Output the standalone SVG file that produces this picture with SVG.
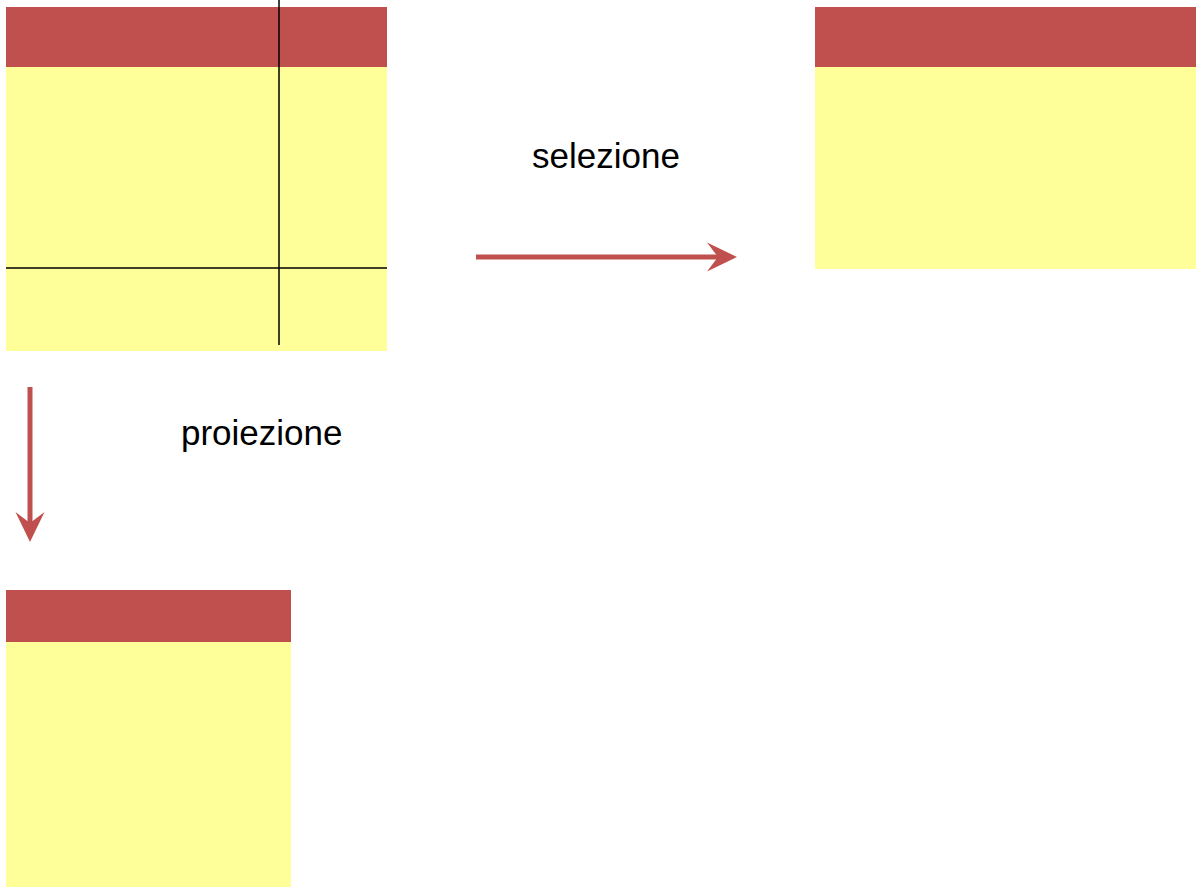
<svg xmlns="http://www.w3.org/2000/svg" width="1200" height="894" viewBox="0 0 1200 894">
<style>
.hdr{fill:#C0504D}
.body{fill:#FFFF99}
.cut{stroke:#000;stroke-width:1.5;fill:none}
.conn{stroke:#C0504D;stroke-width:5;fill:none}
.lbl{font-family:"Liberation Sans",Arial,sans-serif;font-size:35px;fill:#000}
</style>
<defs>
<marker id="arr" markerUnits="userSpaceOnUse" viewBox="0 0 30 30" refX="12" refY="15" markerWidth="30" markerHeight="30" orient="auto">
<path d="M0,0.5 L30,15 L0,29.5 L11,15 Z" fill="#C0504D"/>
</marker>
</defs>
<rect width="1200" height="894" fill="#fff"/>
<g id="table-source">
<rect class="body" x="6" y="7" width="381" height="344"/>
<rect class="hdr" x="6" y="7" width="381" height="60"/>
<line class="cut" x1="279" y1="0" x2="279" y2="345"/>
<line class="cut" x1="6" y1="268" x2="387" y2="268"/>
</g>
<g id="table-selection">
<rect class="body" x="815" y="7" width="381" height="262"/>
<rect class="hdr" x="815" y="7" width="381" height="60"/>
</g>
<g id="table-projection">
<rect class="body" x="6" y="590" width="285" height="297"/>
<rect class="hdr" x="6" y="590" width="285" height="52"/>
</g>
<g id="connectors">
<line class="conn" x1="476" y1="257" x2="719" y2="257" marker-end="url(#arr)"/>
<line class="conn" x1="30" y1="387" x2="30" y2="524" marker-end="url(#arr)"/>
</g>
<g id="labels">
<text class="lbl" x="532" y="168">selezione</text>
<text class="lbl" x="181" y="445">proiezione</text>
</g>
</svg>
